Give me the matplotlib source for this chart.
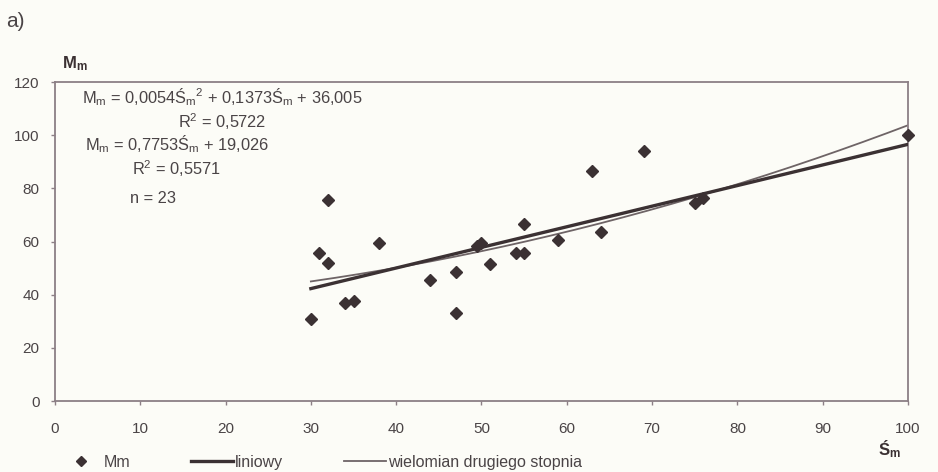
import numpy as np
import matplotlib.pyplot as plt
from matplotlib.lines import Line2D

plt.rcParams['font.family'] = ['Liberation Sans Narrow', 'Liberation Sans', 'DejaVu Sans']
plt.rcParams['mathtext.default'] = 'regular'

# --- data ---
s_m = [30, 31, 32, 32, 34, 35, 38, 44, 47, 47, 49.5, 50, 51, 54, 55, 55,
       59, 63, 64, 69, 75, 76, 100]
m_m = [31, 55.5, 75.5, 52, 37, 37.5, 59.5, 45.5, 48.5, 33, 58.5, 59.5, 51.5,
       55.5, 55.5, 66.5, 60.5, 86.5, 63.5, 94, 74.5, 76.5, 100]

# trend line coefficients printed on the chart
lin_coef = [0.7753, 19.026]
poly_coef = [0.0054, 0.1373, 36.005]
x_range = [30, 100]

x_ticks = [0, 10, 20, 30, 40, 50, 60, 70, 80, 90, 100]
y_ticks = [0, 20, 40, 60, 80, 100, 120]

bg = '#fcfcf7'
dark = '#3b3133'
axis_col = '#8c7f86'
txt = '#4a4446'

fig = plt.figure(figsize=(9.38, 4.72), dpi=100, facecolor=bg)
ax = fig.add_axes([0.0586, 0.1504, 0.9094, 0.6758], facecolor=bg)

xs = np.linspace(x_range[0], x_range[1], 200)
ax.plot(xs, np.polyval(poly_coef, xs), color='#6e6466', lw=1.3, zorder=2)
ax.plot(xs, np.polyval(lin_coef, xs), color=dark, lw=2.4, zorder=3)
ax.plot(s_m, m_m, 'D', color=dark, ms=6.5, zorder=4, clip_on=False)

ax.set_xlim(0, 100)
ax.set_ylim(0, 120)
ax.set_xticks(x_ticks)
ax.set_yticks(y_ticks)
for sp in ax.spines.values():
    sp.set_color(axis_col)
    sp.set_linewidth(1.3)
ax.tick_params(colors=axis_col, labelcolor=txt, labelsize=11, length=3, width=1)
ax.tick_params(axis='x', pad=12)
ax.tick_params(axis='y', pad=8)

# axis titles
fig.text(0.066, 0.855, r'M$_m$', fontsize=12, fontweight='bold', color=dark)
fig.text(0.936, 0.036, r'Ś$_m$', fontsize=12, fontweight='bold', color=dark)
fig.text(0.006, 0.943, 'a)', fontsize=15, color=txt)

# equations
eq_kw = dict(transform=ax.transAxes, fontsize=11.8, color=txt, va='baseline')
ax.text(0.0317, 0.9326, r'M$_m$ = 0,0054Ś$_m$$^2$ + 0,1373Ś$_m$ + 36,005', **eq_kw)
ax.text(0.144, 0.857, r'R$^2$ = 0,5722', **eq_kw)
ax.text(0.035, 0.785, r'M$_m$ = 0,7753Ś$_m$ + 19,026', **eq_kw)
ax.text(0.090, 0.707, r'R$^2$ = 0,5571', **eq_kw)
ax.text(0.088, 0.622, 'n = 23', **eq_kw)

# legend
handles = [
    Line2D([], [], marker='D', ls='none', color=dark, ms=5),
    Line2D([], [], color=dark, lw=2.4),
    Line2D([], [], color='#6e6466', lw=1.3),
]
labels = ['Mm', 'liniowy', 'wielomian drugiego stopnia']
leg = fig.legend(handles, labels, loc='center left', bbox_to_anchor=(0.064, 0.021),
                 ncol=3, frameon=False, fontsize=11.5, handlelength=2.6,
                 handletextpad=0.15, columnspacing=3.8, borderpad=0,
                 borderaxespad=0)
for t in leg.get_texts():
    t.set_color(txt)

fig.savefig('out.png', dpi=100, facecolor=bg)
